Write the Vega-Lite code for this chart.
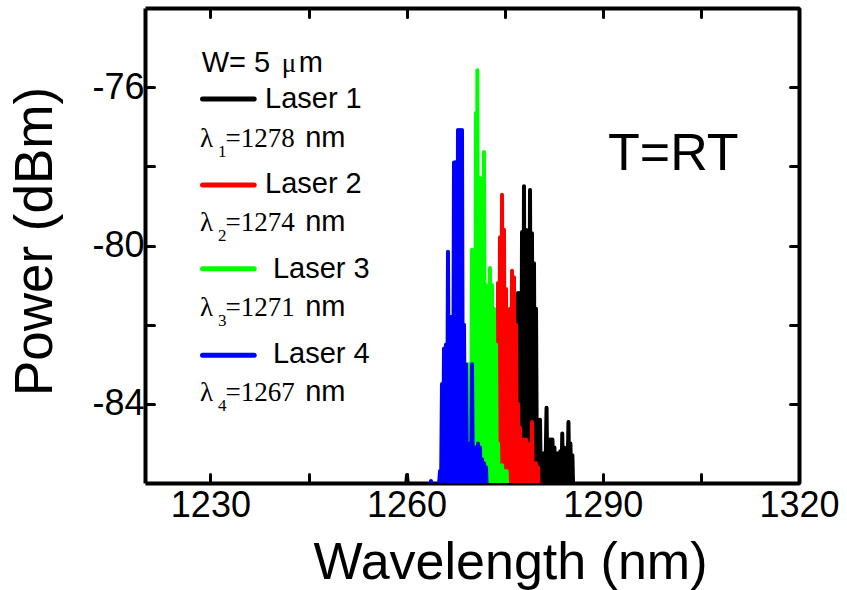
{
  "$schema": "https://vega.github.io/schema/vega-lite/v6.json",
  "width": 654,
  "height": 475,
  "autosize": {"type": "none"},
  "padding": {"left": 145, "top": 8, "right": 48, "bottom": 107},
  "background": "white",
  "config": {"view": {"stroke": null}, "font": "Liberation Sans"},
  "datasets": {
    "spectra": [
      {"s":"Laser 1","w":1259.76,"p":-86.4},{"s":"Laser 1","w":1260.06,"p":-85.8},{"s":"Laser 1","w":1260.37,"p":-86.4},
      {"s":"Laser 1","w":1273.36,"p":-86.4},{"s":"Laser 1","w":1273.52,"p":-84.1},{"s":"Laser 1","w":1273.67,"p":-86.4},
      {"s":"Laser 1","w":1273.98,"p":-86.4},
      {"s":"Laser 1","w":1274.28,"p":-83.5},{"s":"Laser 1","w":1274.43,"p":-86.4},{"s":"Laser 1","w":1274.59,"p":-83.0},{"s":"Laser 1","w":1274.74,"p":-86.4},
      {"s":"Laser 1","w":1274.89,"p":-82.5},{"s":"Laser 1","w":1275.05,"p":-86.4},{"s":"Laser 1","w":1275.20,"p":-83.0},{"s":"Laser 1","w":1275.35,"p":-86.4},
      {"s":"Laser 1","w":1275.50,"p":-82.5},{"s":"Laser 1","w":1275.66,"p":-86.4},{"s":"Laser 1","w":1275.81,"p":-82.0},{"s":"Laser 1","w":1275.96,"p":-86.4},
      {"s":"Laser 1","w":1276.12,"p":-81.8},{"s":"Laser 1","w":1276.27,"p":-86.4},{"s":"Laser 1","w":1276.42,"p":-81.5},{"s":"Laser 1","w":1276.57,"p":-86.4},
      {"s":"Laser 1","w":1276.73,"p":-82.1},{"s":"Laser 1","w":1276.88,"p":-86.4},{"s":"Laser 1","w":1277.03,"p":-81.2},{"s":"Laser 1","w":1277.19,"p":-86.4},
      {"s":"Laser 1","w":1277.34,"p":-81.2},{"s":"Laser 1","w":1277.49,"p":-86.4},{"s":"Laser 1","w":1277.65,"p":-79.66},{"s":"Laser 1","w":1277.80,"p":-86.4},
      {"s":"Laser 1","w":1277.95,"p":-78.5},{"s":"Laser 1","w":1278.10,"p":-86.4},{"s":"Laser 1","w":1278.26,"p":-79.6},{"s":"Laser 1","w":1278.41,"p":-86.4},
      {"s":"Laser 1","w":1278.56,"p":-79.7},{"s":"Laser 1","w":1278.72,"p":-86.4},{"s":"Laser 1","w":1278.87,"p":-78.6},{"s":"Laser 1","w":1279.02,"p":-86.4},
      {"s":"Laser 1","w":1279.17,"p":-79.69},{"s":"Laser 1","w":1279.33,"p":-86.4},{"s":"Laser 1","w":1279.48,"p":-80.45},{"s":"Laser 1","w":1279.63,"p":-86.4},
      {"s":"Laser 1","w":1279.79,"p":-81.6},{"s":"Laser 1","w":1279.94,"p":-86.4},{"s":"Laser 1","w":1280.09,"p":-84.4},{"s":"Laser 1","w":1280.24,"p":-86.4},
      {"s":"Laser 1","w":1280.40,"p":-84.4},{"s":"Laser 1","w":1280.55,"p":-86.4},{"s":"Laser 1","w":1280.70,"p":-85.25},{"s":"Laser 1","w":1280.86,"p":-86.4},
      {"s":"Laser 1","w":1281.01,"p":-85.25},{"s":"Laser 1","w":1281.16,"p":-86.4},{"s":"Laser 1","w":1281.40,"p":-84.1},{"s":"Laser 1","w":1281.55,"p":-86.4},
      {"s":"Laser 1","w":1281.70,"p":-84.9},{"s":"Laser 1","w":1281.85,"p":-86.4},{"s":"Laser 1","w":1282.0,"p":-84.9},{"s":"Laser 1","w":1282.15,"p":-86.4},
      {"s":"Laser 1","w":1282.30,"p":-84.9},{"s":"Laser 1","w":1282.45,"p":-86.4},{"s":"Laser 1","w":1282.60,"p":-85.1},{"s":"Laser 1","w":1282.75,"p":-86.4},
      {"s":"Laser 1","w":1282.90,"p":-85.25},{"s":"Laser 1","w":1283.05,"p":-86.4},{"s":"Laser 1","w":1283.20,"p":-85.25},{"s":"Laser 1","w":1283.35,"p":-86.4},
      {"s":"Laser 1","w":1283.50,"p":-85.2},{"s":"Laser 1","w":1283.65,"p":-86.4},{"s":"Laser 1","w":1283.80,"p":-84.75},{"s":"Laser 1","w":1283.95,"p":-86.4},
      {"s":"Laser 1","w":1284.10,"p":-85.1},{"s":"Laser 1","w":1284.25,"p":-86.4},{"s":"Laser 1","w":1284.40,"p":-85.25},{"s":"Laser 1","w":1284.55,"p":-86.4},
      {"s":"Laser 1","w":1284.75,"p":-84.46},{"s":"Laser 1","w":1284.90,"p":-86.4},{"s":"Laser 1","w":1285.05,"p":-85.0},{"s":"Laser 1","w":1285.20,"p":-86.4},
      {"s":"Laser 1","w":1285.35,"p":-85.3},{"s":"Laser 1","w":1285.50,"p":-86.4},

      {"s":"Laser 2","w":1273.36,"p":-86.4},{"s":"Laser 2","w":1273.67,"p":-82.0},{"s":"Laser 2","w":1273.82,"p":-86.4},{"s":"Laser 2","w":1273.98,"p":-80.95},
      {"s":"Laser 2","w":1274.13,"p":-86.4},{"s":"Laser 2","w":1274.28,"p":-79.79},{"s":"Laser 2","w":1274.43,"p":-86.4},{"s":"Laser 2","w":1274.59,"p":-78.72},
      {"s":"Laser 2","w":1274.74,"p":-86.4},{"s":"Laser 2","w":1274.89,"p":-79.6},{"s":"Laser 2","w":1275.05,"p":-86.4},{"s":"Laser 2","w":1275.20,"p":-81.1},
      {"s":"Laser 2","w":1275.35,"p":-86.4},{"s":"Laser 2","w":1275.50,"p":-82.5},{"s":"Laser 2","w":1275.66,"p":-86.4},{"s":"Laser 2","w":1275.81,"p":-81.6},
      {"s":"Laser 2","w":1275.96,"p":-86.4},{"s":"Laser 2","w":1276.12,"p":-80.64},{"s":"Laser 2","w":1276.27,"p":-86.4},{"s":"Laser 2","w":1276.42,"p":-80.8},
      {"s":"Laser 2","w":1276.57,"p":-86.4},{"s":"Laser 2","w":1276.73,"p":-82.0},{"s":"Laser 2","w":1276.88,"p":-86.4},{"s":"Laser 2","w":1277.03,"p":-84.0},
      {"s":"Laser 2","w":1277.19,"p":-86.4},{"s":"Laser 2","w":1277.34,"p":-84.6},{"s":"Laser 2","w":1277.49,"p":-86.4},{"s":"Laser 2","w":1277.65,"p":-84.9},
      {"s":"Laser 2","w":1277.80,"p":-86.4},{"s":"Laser 2","w":1277.95,"p":-84.9},{"s":"Laser 2","w":1278.10,"p":-86.4},{"s":"Laser 2","w":1278.26,"p":-84.9},
      {"s":"Laser 2","w":1278.41,"p":-86.4},{"s":"Laser 2","w":1278.56,"p":-85.0},{"s":"Laser 2","w":1278.72,"p":-86.4},{"s":"Laser 2","w":1278.87,"p":-85.1},
      {"s":"Laser 2","w":1279.02,"p":-86.4},{"s":"Laser 2","w":1279.17,"p":-84.46},{"s":"Laser 2","w":1279.33,"p":-86.4},{"s":"Laser 2","w":1279.48,"p":-85.5},
      {"s":"Laser 2","w":1279.63,"p":-86.4},{"s":"Laser 2","w":1279.79,"p":-85.5},{"s":"Laser 2","w":1279.94,"p":-86.4},{"s":"Laser 2","w":1280.09,"p":-85.6},
      {"s":"Laser 2","w":1280.24,"p":-86.4},

      {"s":"Laser 3","w":1267.71,"p":-86.4},{"s":"Laser 3","w":1268.01,"p":-85.85},{"s":"Laser 3","w":1268.32,"p":-86.4},
      {"s":"Laser 3","w":1269.08,"p":-86.4},{"s":"Laser 3","w":1269.39,"p":-83.0},{"s":"Laser 3","w":1269.54,"p":-86.4},{"s":"Laser 3","w":1269.69,"p":-83.0},
      {"s":"Laser 3","w":1269.85,"p":-86.4},{"s":"Laser 3","w":1270.00,"p":-80.11},{"s":"Laser 3","w":1270.15,"p":-86.4},{"s":"Laser 3","w":1270.31,"p":-80.2},
      {"s":"Laser 3","w":1270.46,"p":-86.4},{"s":"Laser 3","w":1270.61,"p":-76.65},{"s":"Laser 3","w":1270.70,"p":-86.4},{"s":"Laser 3","w":1270.82,"p":-75.57},
      {"s":"Laser 3","w":1270.97,"p":-86.4},{"s":"Laser 3","w":1271.10,"p":-78.9},{"s":"Laser 3","w":1271.22,"p":-86.4},{"s":"Laser 3","w":1271.30,"p":-78.3},
      {"s":"Laser 3","w":1271.38,"p":-86.4},{"s":"Laser 3","w":1271.53,"p":-80.0},{"s":"Laser 3","w":1271.68,"p":-86.4},{"s":"Laser 3","w":1271.83,"p":-77.64},
      {"s":"Laser 3","w":1271.99,"p":-86.4},{"s":"Laser 3","w":1272.14,"p":-81.0},{"s":"Laser 3","w":1272.29,"p":-86.4},{"s":"Laser 3","w":1272.45,"p":-81.2},
      {"s":"Laser 3","w":1272.60,"p":-86.4},{"s":"Laser 3","w":1272.75,"p":-80.57},{"s":"Laser 3","w":1272.91,"p":-86.4},{"s":"Laser 3","w":1273.06,"p":-81.0},
      {"s":"Laser 3","w":1273.21,"p":-86.4},{"s":"Laser 3","w":1273.36,"p":-81.6},{"s":"Laser 3","w":1273.52,"p":-86.4},{"s":"Laser 3","w":1273.67,"p":-82.5},
      {"s":"Laser 3","w":1273.82,"p":-86.4},{"s":"Laser 3","w":1273.98,"p":-85.0},{"s":"Laser 3","w":1274.13,"p":-86.4},{"s":"Laser 3","w":1274.59,"p":-85.55},
      {"s":"Laser 3","w":1274.74,"p":-86.4},{"s":"Laser 3","w":1275.05,"p":-85.7},{"s":"Laser 3","w":1275.20,"p":-86.4},{"s":"Laser 3","w":1275.30,"p":-85.7},
      {"s":"Laser 3","w":1275.45,"p":-86.4},

      {"s":"Laser 4","w":1263.43,"p":-86.4},{"s":"Laser 4","w":1263.73,"p":-85.95},{"s":"Laser 4","w":1264.04,"p":-86.4},
      {"s":"Laser 4","w":1264.80,"p":-86.4},{"s":"Laser 4","w":1265.11,"p":-85.7},{"s":"Laser 4","w":1265.26,"p":-86.4},{"s":"Laser 4","w":1265.41,"p":-83.5},
      {"s":"Laser 4","w":1265.57,"p":-86.4},{"s":"Laser 4","w":1265.72,"p":-82.6},{"s":"Laser 4","w":1265.87,"p":-86.4},{"s":"Laser 4","w":1266.02,"p":-82.5},
      {"s":"Laser 4","w":1266.18,"p":-86.4},{"s":"Laser 4","w":1266.33,"p":-80.16},{"s":"Laser 4","w":1266.48,"p":-86.4},{"s":"Laser 4","w":1266.64,"p":-81.8},
      {"s":"Laser 4","w":1266.79,"p":-86.4},{"s":"Laser 4","w":1266.94,"p":-81.8},{"s":"Laser 4","w":1267.09,"p":-86.4},{"s":"Laser 4","w":1267.25,"p":-77.9},
      {"s":"Laser 4","w":1267.40,"p":-86.4},{"s":"Laser 4","w":1267.55,"p":-77.89},{"s":"Laser 4","w":1267.71,"p":-86.4},{"s":"Laser 4","w":1267.86,"p":-77.08},
      {"s":"Laser 4","w":1268.01,"p":-86.4},{"s":"Laser 4","w":1268.17,"p":-77.08},{"s":"Laser 4","w":1268.32,"p":-86.4},{"s":"Laser 4","w":1268.47,"p":-77.08},
      {"s":"Laser 4","w":1268.62,"p":-86.4},{"s":"Laser 4","w":1268.78,"p":-82.0},{"s":"Laser 4","w":1268.93,"p":-86.4},{"s":"Laser 4","w":1269.08,"p":-83.0},
      {"s":"Laser 4","w":1269.24,"p":-86.4},{"s":"Laser 4","w":1269.39,"p":-85.3},{"s":"Laser 4","w":1269.54,"p":-86.4},{"s":"Laser 4","w":1269.69,"p":-85.0},
      {"s":"Laser 4","w":1269.85,"p":-86.4},{"s":"Laser 4","w":1270.00,"p":-83.0},{"s":"Laser 4","w":1270.15,"p":-86.4},{"s":"Laser 4","w":1270.31,"p":-85.4},
      {"s":"Laser 4","w":1270.46,"p":-86.4},{"s":"Laser 4","w":1270.61,"p":-85.1},{"s":"Laser 4","w":1270.76,"p":-86.4},{"s":"Laser 4","w":1270.92,"p":-85.0},
      {"s":"Laser 4","w":1271.07,"p":-86.4},{"s":"Laser 4","w":1271.22,"p":-85.1},{"s":"Laser 4","w":1271.38,"p":-86.4},{"s":"Laser 4","w":1271.53,"p":-85.4},
      {"s":"Laser 4","w":1271.68,"p":-86.4},{"s":"Laser 4","w":1271.83,"p":-85.5},{"s":"Laser 4","w":1271.99,"p":-86.4},{"s":"Laser 4","w":1272.14,"p":-85.6},
      {"s":"Laser 4","w":1272.29,"p":-86.4}
    ],
    "legendLines": [
      {"s":"Laser 1","x":1228.8,"x2":1236.7,"y":-76.30},
      {"s":"Laser 2","x":1228.8,"x2":1236.7,"y":-78.47},
      {"s":"Laser 3","x":1228.8,"x2":1236.7,"y":-80.59},
      {"s":"Laser 4","x":1228.8,"x2":1236.7,"y":-82.77}
    ],
    "sansText": [
      {"t":"W= 5","x":1228.67,"y":-75.61},
      {"t":"m","x":1243.5,"y":-75.61},
      {"t":"Laser 1","x":1238.35,"y":-76.53},
      {"t":"Laser 2","x":1238.35,"y":-78.67},
      {"t":"Laser 3","x":1239.57,"y":-80.83},
      {"t":"Laser 4","x":1239.57,"y":-82.98},
      {"t":"nm","x":1244.5,"y":-77.50},
      {"t":"nm","x":1244.5,"y":-79.63},
      {"t":"nm","x":1244.5,"y":-81.78},
      {"t":"nm","x":1244.5,"y":-83.93}
    ],
    "serifText": [
      {"t":"μ","x":1240.9,"y":-75.61},
      {"t":"λ","x":1228.41,"y":-77.50},
      {"t":"λ","x":1228.41,"y":-79.63},
      {"t":"λ","x":1228.41,"y":-81.78},
      {"t":"λ","x":1228.41,"y":-83.93},
      {"t":"=1278","x":1232.3,"y":-77.50},
      {"t":"=1274","x":1232.3,"y":-79.63},
      {"t":"=1271","x":1232.3,"y":-81.78},
      {"t":"=1267","x":1232.3,"y":-83.93}
    ],
    "subText": [
      {"t":"1","x":1231.16,"y":-77.76},
      {"t":"2","x":1231.16,"y":-79.89},
      {"t":"3","x":1231.16,"y":-82.03},
      {"t":"4","x":1231.16,"y":-84.18}
    ],
    "bigText": [
      {"t":"T=RT","x":1290.8,"y":-78.09}
    ]
  },
  "layer": [
    {
      "data": {"name": "spectra"},
      "mark": {"type": "line", "strokeWidth": 4, "strokeJoin": "round", "strokeCap": "round", "clip": true},
      "encoding": {
        "x": {"field": "w", "type": "quantitative",
          "scale": {"domain": [1220, 1320], "nice": false, "zero": false},
          "axis": {"orient": "bottom", "values": [1230, 1245, 1260, 1275, 1290, 1305, 1320],
            "labelExpr": "datum.value % 30 == 0 ? '' + datum.value : ''",
            "grid": false, "tickSize": -9, "tickWidth": 3, "tickColor": "black", "tickCap": "round",
            "domainWidth": 4, "domainColor": "black",
            "labelFontSize": 36, "labelColor": "black", "labelPadding": 14, "labelFlush": false, "labelOverlap": false, "labelBound": false,
            "title": "Wavelength (nm)", "titleFontSize": 52, "titleFontWeight": "normal", "titleColor": "black",
            "titleX": 365, "titleY": 95, "titleBaseline": "alphabetic", "titleAlign": "center", "titleAnchor": null}},
        "y": {"field": "p", "type": "quantitative",
          "scale": {"domain": [-86, -74], "nice": false, "zero": false},
          "axis": {"orient": "left", "values": [-84, -82, -80, -78, -76],
            "labelExpr": "(datum.value + 76) % 4 == 0 ? '' + datum.value : ''",
            "grid": false, "tickSize": -9, "tickWidth": 3, "tickColor": "black", "tickCap": "round",
            "domainWidth": 4, "domainColor": "black",
            "labelFontSize": 36, "labelColor": "black", "labelPadding": 10, "labelFlush": false, "labelOverlap": false, "labelBound": false,
            "title": "Power (dBm)", "titleFontSize": 53, "titleFontWeight": "normal", "titleColor": "black",
            "titleX": -94, "titleY": 233, "titleBaseline": "alphabetic", "titleAlign": "center", "titleAngle": -90, "titleAnchor": null}},
        "color": {"field": "s", "type": "nominal",
          "scale": {"domain": ["Laser 1", "Laser 2", "Laser 3", "Laser 4"], "range": ["#000000", "#ff0000", "#00ff00", "#0000ff"]},
          "legend": null}
      }
    },
    {
      "data": {"name": "legendLines"},
      "mark": {"type": "rule", "strokeWidth": 5, "strokeCap": "round"},
      "encoding": {
        "x": {"field": "x", "type": "quantitative",
          "axis": {"orient": "top", "values": [1230, 1245, 1260, 1275, 1290, 1305, 1320], "labels": false, "title": null,
            "grid": false, "tickSize": -9, "tickWidth": 3, "tickColor": "black", "tickCap": "round", "domainWidth": 4, "domainColor": "black"}},
        "x2": {"field": "x2"},
        "y": {"field": "y", "type": "quantitative",
          "axis": {"orient": "right", "values": [-84, -82, -80, -78, -76], "labels": false, "title": null,
            "grid": false, "tickSize": -9, "tickWidth": 3, "tickColor": "black", "tickCap": "round", "domainWidth": 4, "domainColor": "black"}},
        "color": {"field": "s", "type": "nominal", "legend": null}
      }
    },
    {
      "data": {"name": "sansText"},
      "mark": {"type": "text", "font": "Liberation Sans", "fontSize": 29, "align": "left", "baseline": "alphabetic", "color": "black"},
      "encoding": {
        "x": {"field": "x", "type": "quantitative", "axis": null},
        "y": {"field": "y", "type": "quantitative", "axis": null},
        "text": {"field": "t"}
      }
    },
    {
      "data": {"name": "serifText"},
      "mark": {"type": "text", "font": "Liberation Serif", "fontSize": 27, "align": "left", "baseline": "alphabetic", "color": "black"},
      "encoding": {
        "x": {"field": "x", "type": "quantitative", "axis": null},
        "y": {"field": "y", "type": "quantitative", "axis": null},
        "text": {"field": "t"}
      }
    },
    {
      "data": {"name": "subText"},
      "mark": {"type": "text", "font": "Liberation Serif", "fontSize": 17, "align": "left", "baseline": "alphabetic", "color": "black"},
      "encoding": {
        "x": {"field": "x", "type": "quantitative", "axis": null},
        "y": {"field": "y", "type": "quantitative", "axis": null},
        "text": {"field": "t"}
      }
    },
    {
      "data": {"name": "bigText"},
      "mark": {"type": "text", "font": "Liberation Sans", "fontSize": 52, "align": "left", "baseline": "alphabetic", "color": "black"},
      "encoding": {
        "x": {"field": "x", "type": "quantitative", "axis": null},
        "y": {"field": "y", "type": "quantitative", "axis": null},
        "text": {"field": "t"}
      }
    }
  ],
  "resolve": {"axis": {"x": "independent", "y": "independent"}}
}
